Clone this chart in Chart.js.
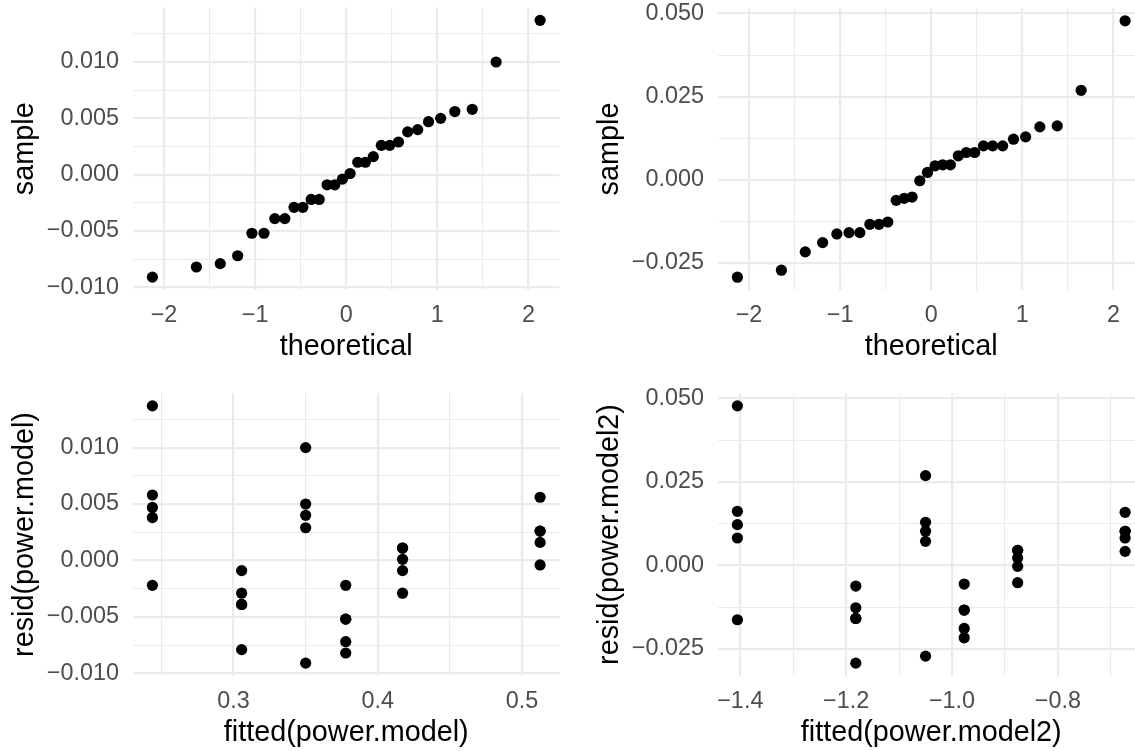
<!DOCTYPE html>
<html>
<head>
<meta charset="utf-8">
<script src="https://cdn.jsdelivr.net/npm/chart.js@4/dist/chart.umd.min.js"></script>
<style>
  html, body { margin: 0; padding: 0; background: #ffffff; overflow: hidden; }
  #wrap { position: relative; width: 1135px; height: 751px; overflow: hidden; }
  canvas { position: absolute; }
</style>
</head>
<body>
<div id="wrap">
  <canvas id="qq1" width="585" height="375" style="left:0px;top:0px"></canvas>
  <canvas id="qq2" width="585" height="375" style="left:585px;top:0px"></canvas>
  <canvas id="rf1" width="585" height="375" style="left:0px;top:386px"></canvas>
  <canvas id="rf2" width="585" height="375" style="left:585px;top:386px"></canvas>
</div>
<script>
// Normal quantiles used for both Q-Q plots (30 observations)
const theoretical = [-2.128, -1.645, -1.383, -1.192, -1.036, -0.903, -0.784, -0.674, -0.573, -0.477,
  -0.385, -0.297, -0.210, -0.126, -0.042, 0.042, 0.126, 0.210, 0.297, 0.385,
  0.477, 0.573, 0.674, 0.784, 0.903, 1.036, 1.192, 1.383, 1.645, 2.128];

// Ordered residuals of power.model
const sample1 = [-0.0091, -0.0082, -0.0079, -0.0072, -0.0052, -0.0052, -0.0039, -0.0039, -0.0029, -0.0029,
  -0.0022, -0.0022, -0.0009, -0.0009, -0.0004, 0.0001, 0.0011, 0.0011, 0.0016, 0.0026,
  0.0026, 0.0029, 0.0038, 0.0040, 0.0047, 0.0050, 0.0056, 0.0058, 0.0100, 0.0137];

// Ordered residuals of power.model2
const sample2 = [-0.0293, -0.0272, -0.0217, -0.0189, -0.0163, -0.0159, -0.0159, -0.0134, -0.0134, -0.0127,
  -0.0062, -0.0056, -0.0052, -0.0003, 0.0022, 0.0042, 0.0045, 0.0045, 0.0072, 0.0082,
  0.0082, 0.0102, 0.0102, 0.0102, 0.0122, 0.0129, 0.0159, 0.0162, 0.0269, 0.0478];

// Fitted values and residuals, power.model
const fitted1 = [0.2437, 0.2437, 0.2437, 0.2437, 0.2437,
  0.3056, 0.3056, 0.3056, 0.3056, 0.3056,
  0.3500, 0.3500, 0.3500, 0.3500, 0.3500,
  0.3778, 0.3778, 0.3778, 0.3778, 0.3778,
  0.4172, 0.4172, 0.4172, 0.4172, 0.4172,
  0.5126, 0.5126, 0.5126, 0.5126, 0.5126];
const resid1 = [0.0137, 0.0058, 0.0047, 0.0038, -0.0022,
  -0.0009, -0.0029, -0.0039, -0.0039, -0.0079,
  0.0100, 0.0050, 0.0040, 0.0029, -0.0091,
  -0.0022, -0.0052, -0.0052, -0.0072, -0.0082,
  0.0011, 0.0011, 0.0001, -0.0009, -0.0029,
  0.0056, 0.0026, 0.0026, 0.0016, -0.0004];

// Fitted values and residuals, power.model2
const fitted2 = [-1.4055, -1.4055, -1.4055, -1.4055, -1.4055,
  -1.1818, -1.1818, -1.1818, -1.1818, -1.1818,
  -1.0500, -1.0500, -1.0500, -1.0500, -1.0500,
  -0.9770, -0.9770, -0.9770, -0.9770, -0.9770,
  -0.8760, -0.8760, -0.8760, -0.8760, -0.8760,
  -0.6730, -0.6730, -0.6730, -0.6730, -0.6730];
const resid2 = [0.0478, 0.0162, 0.0122, 0.0082, -0.0163,
  -0.0062, -0.0127, -0.0159, -0.0159, -0.0293,
  0.0269, 0.0129, 0.0102, 0.0072, -0.0272,
  -0.0056, -0.0134, -0.0134, -0.0189, -0.0217,
  0.0045, 0.0045, 0.0022, -0.0003, -0.0052,
  0.0159, 0.0102, 0.0102, 0.0082, 0.0042];

// Axis breaks: major ticks with their labels, and minor grid lines
const qqXMajor = [-2, -1, 0, 1, 2];
const qqXLabels = ['\u22122', '\u22121', '0', '1', '2'];
const qqXMinor = [-1.5, -0.5, 0.5, 1.5];

const y1Major = [-0.010, -0.005, 0, 0.005, 0.010];
const y1Labels = ['\u22120.010', '\u22120.005', '0.000', '0.005', '0.010'];
const y1Minor = [-0.0075, -0.0025, 0.0025, 0.0075, 0.0125];

const y2Major = [-0.025, 0, 0.025, 0.050];
const y2Labels = ['\u22120.025', '0.000', '0.025', '0.050'];
const y2Minor = [-0.0125, 0.0125, 0.0375];

const fit1Major = [0.3, 0.4, 0.5];
const fit1Labels = ['0.3', '0.4', '0.5'];
const fit1Minor = [0.25, 0.35, 0.45];

const fit2Major = [-1.4, -1.2, -1.0, -0.8];
const fit2Labels = ['\u22121.4', '\u22121.2', '\u22121.0', '\u22120.8'];
const fit2Minor = [-1.3, -1.1, -0.9, -0.7];

// Shared look
const FONT = 'Liberation Sans, Arial, Helvetica, sans-serif';
const TICK_SIZE = 23.4;
const TITLE_SIZE = 28.8;
const GRID = '#EBEBEB';

// Limits padded by 5% of the data range on each side
function padded(values) {
  const lo = Math.min(...values), hi = Math.max(...values);
  const d = (hi - lo) * 0.05;
  return [lo - d, hi + d];
}

function axis(kind, values, major, labels, minor, title) {
  const [lo, hi] = padded(values);
  const breaks = major.concat(minor).sort((a, b) => a - b);
  const isX = kind === 'x';
  return {
    type: 'linear',
    position: isX ? 'bottom' : 'left',
    min: lo,
    max: hi,
    border: { display: false },
    grid: {
      color: GRID,
      drawTicks: false,
      lineWidth: (ctx) => (ctx.tick && ctx.tick.minor ? 1.1 : 2.2)
    },
    ticks: {
      autoSkip: false,
      maxRotation: 0,
      minRotation: 0,
      padding: isX ? 12 : 14,
      color: '#4D4D4D',
      font: { family: FONT, size: TICK_SIZE },
      callback: function (value, index, ticks) {
        const t = ticks[index];
        if (t.minor) return '';
        const k = major.findIndex((m) => Math.abs(m - t.value) < 1e-9);
        return k >= 0 ? labels[k] : '';
      }
    },
    title: {
      display: true,
      text: title,
      color: '#000000',
      font: { family: FONT, size: TITLE_SIZE },
      padding: isX ? { top: 0, bottom: 11 } : { top: 8, bottom: 0 }
    },
    afterBuildTicks: (scale) => {
      scale.ticks = breaks.map((v) => ({ value: v, minor: !major.some((m) => Math.abs(m - v) < 1e-9) }));
    },
    afterFit: (scale) => {
      // fixed axis band, no extra room for overhanging labels
      if (isX) scale.height = 85; else scale.width = 133;
      scale.paddingTop = 0;
      scale.paddingBottom = 0;
      scale.paddingLeft = 0;
      scale.paddingRight = 0;
    }
  };
}

function panel(id, xs, ys, xAxis, yAxis, top) {
  new Chart(document.getElementById(id), {
    type: 'scatter',
    data: {
      datasets: [{
        data: xs.map((x, i) => ({ x: x, y: ys[i] })),
        backgroundColor: '#000000',
        borderWidth: 0,
        pointRadius: 5.6,
        pointHoverRadius: 5.6
      }]
    },
    options: {
      responsive: false,
      animation: false,
      devicePixelRatio: 1,
      layout: { padding: { top: top, right: 25.5, bottom: 0, left: 0 } },
      plugins: { legend: { display: false }, tooltip: { enabled: false } },
      events: [],
      scales: { x: xAxis, y: yAxis }
    }
  });
}

panel('qq1', theoretical, sample1,
  axis('x', theoretical, qqXMajor, qqXLabels, qqXMinor, 'theoretical'),
  axis('y', sample1, y1Major, y1Labels, y1Minor, 'sample'), 7.5);

panel('qq2', theoretical, sample2,
  axis('x', theoretical, qqXMajor, qqXLabels, qqXMinor, 'theoretical'),
  axis('y', sample2, y2Major, y2Labels, y2Minor, 'sample'), 8);

panel('rf1', fitted1, resid1,
  axis('x', fitted1, fit1Major, fit1Labels, fit1Minor, 'fitted(power.model)'),
  axis('y', resid1, y1Major, y1Labels, y1Minor, 'resid(power.model)'), 7);

panel('rf2', fitted2, resid2,
  axis('x', fitted2, fit2Major, fit2Labels, fit2Minor, 'fitted(power.model2)'),
  axis('y', resid2, y2Major, y2Labels, y2Minor, 'resid(power.model2)'), 7);
</script>
</body>
</html>
